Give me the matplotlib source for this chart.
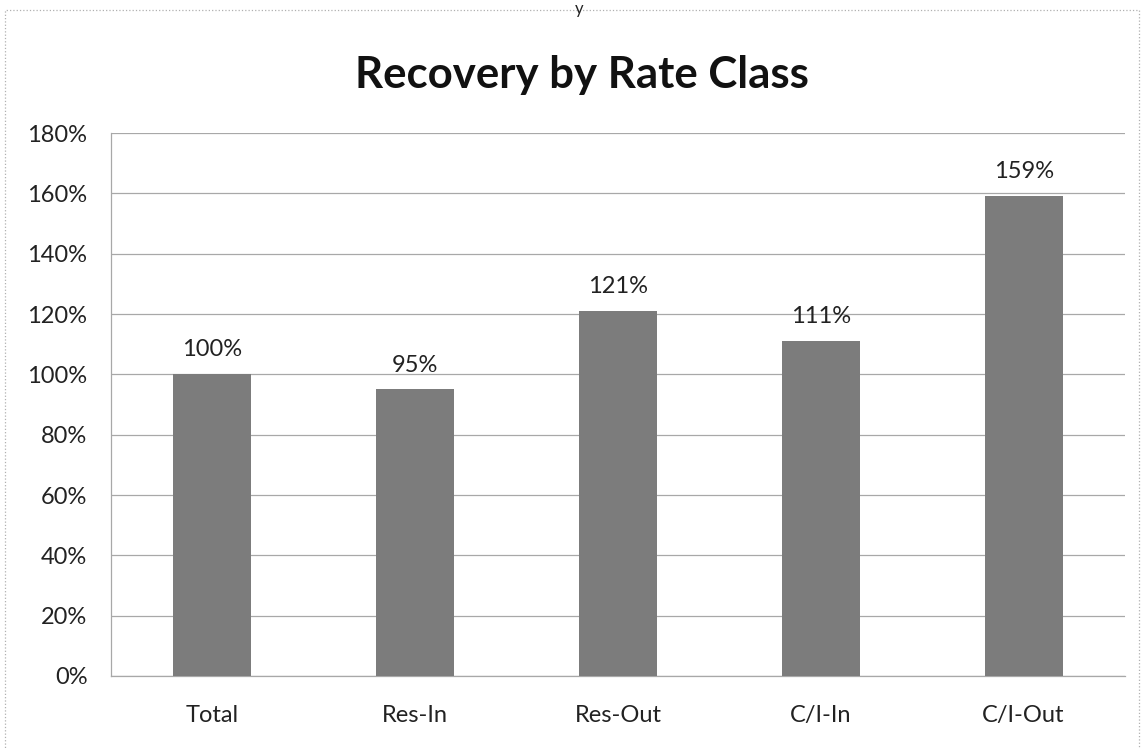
import numpy as np
import matplotlib.pyplot as plt
from matplotlib.ticker import FuncFormatter
from matplotlib.patches import Rectangle

categories = ['Total', 'Res-In', 'Res-Out', 'C/I-In', 'C/I-Out']
recovery = [100, 95, 121, 111, 159]
yticks = [0, 20, 40, 60, 80, 100, 120, 140, 160, 180]

plt.rcParams['font.family'] = ['Lato', 'DejaVu Sans']

fig = plt.figure(figsize=(11.44, 7.49), dpi=100)
ax = fig.add_axes([111/1144, 1 - 676/749, (1125-111)/1144, (676-133)/749])

x = np.arange(len(categories))
bars = ax.bar(x, recovery, width=0.385, color='#7c7c7c', zorder=3)

for xi, v in zip(x, recovery):
    ax.annotate('%d%%' % v, (xi, v), xytext=(0, 10), textcoords='offset points',
                ha='center', va='bottom', fontsize=17, color='#222222', zorder=4)

ax.set_xlim(-0.5, len(categories) - 0.5)
ax.set_ylim(0, 180)
ax.set_yticks(yticks)
ax.yaxis.set_major_formatter(FuncFormatter(lambda v, p: '%d%%' % v))
ax.set_xticks(x)
ax.set_xticklabels(categories)
ax.tick_params(axis='both', length=0, labelsize=17, colors='#222222')
ax.tick_params(axis='x', pad=21)
ax.tick_params(axis='y', pad=17)
ax.grid(axis='y', color='#a8a8a8', lw=0.9, zorder=0)

for s in ['top', 'right']:
    ax.spines[s].set_visible(False)
for s in ['left', 'bottom']:
    ax.spines[s].set_color('#a8a8a8')
    ax.spines[s].set_linewidth(0.9)

fig.text(582/1144, 1 - 75/749, 'Recovery by Rate Class', ha='center', va='center',
         fontsize=31.5, fontweight='bold', color='#111111')
fig.text(0.506, 0.999, 'y', ha='center', va='top', fontsize=12, color='#222222')

# outer chart border
fig.patches.append(Rectangle((5/1144, -0.02), (1139-5)/1144, 1 - 10/749 + 0.02,
                             transform=fig.transFigure, fill=False,
                             edgecolor='#b0b0b0', lw=0.9, ls=':'))

fig.savefig('out.png', dpi=100)
